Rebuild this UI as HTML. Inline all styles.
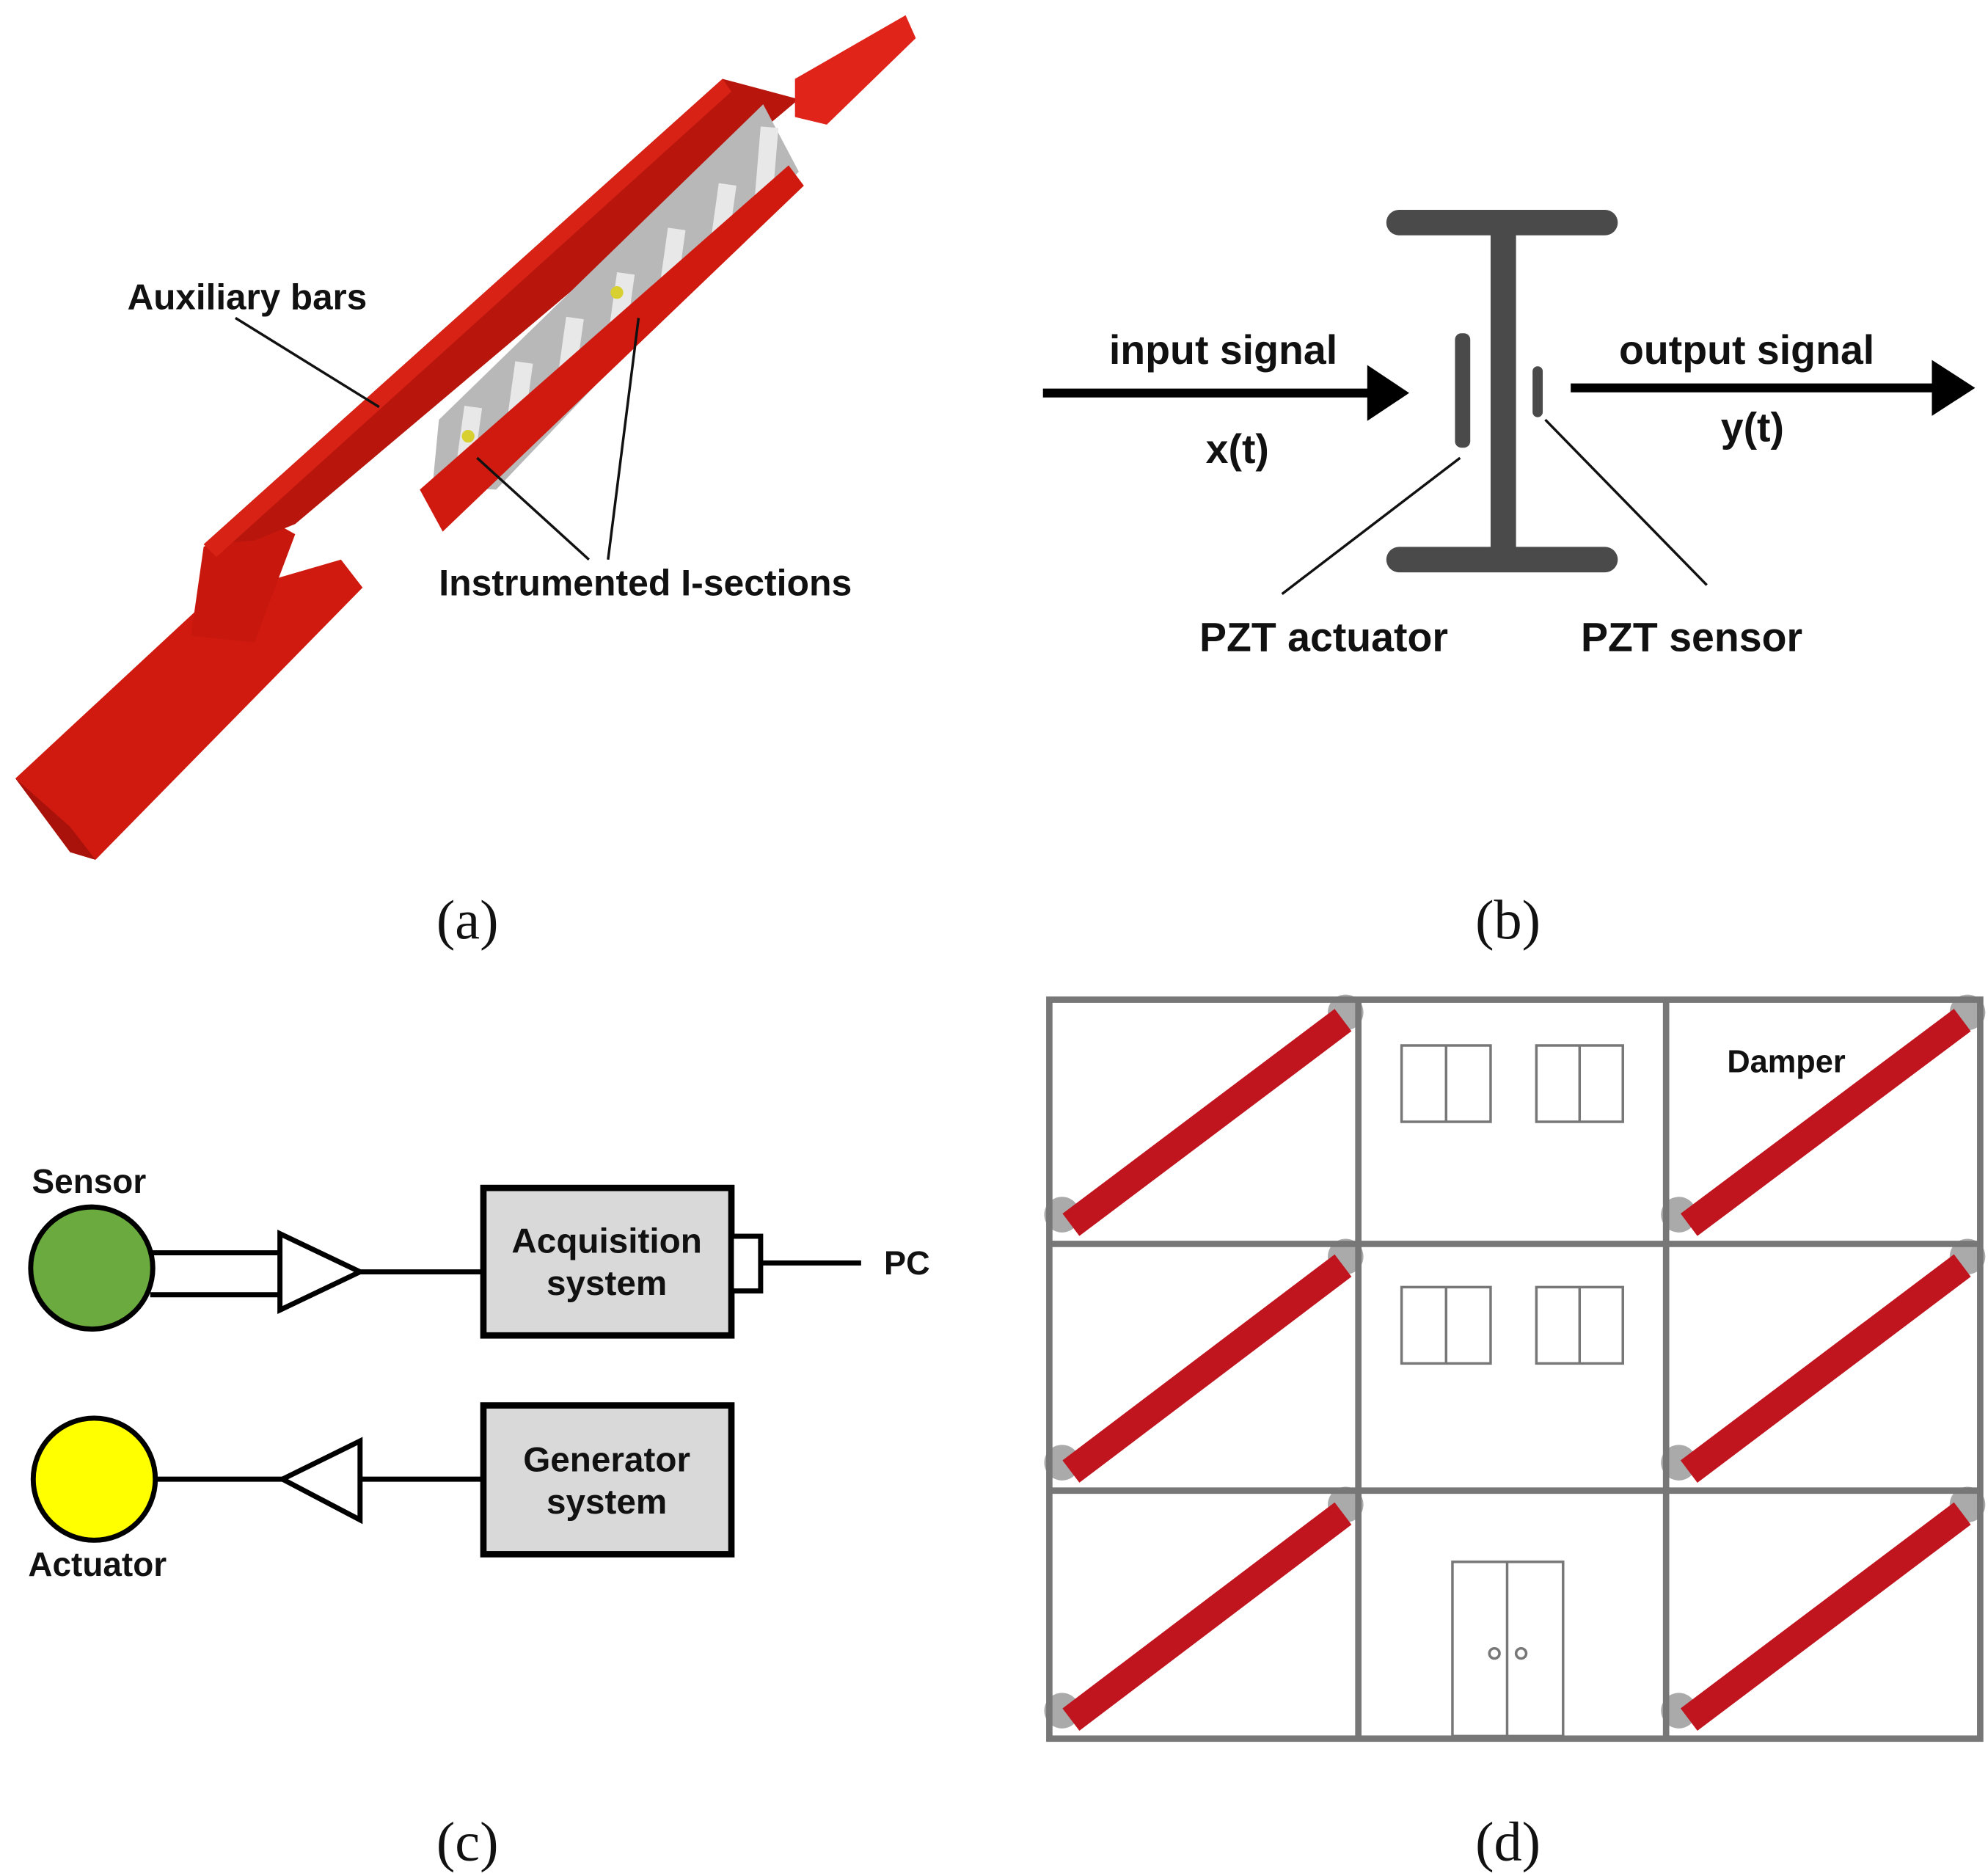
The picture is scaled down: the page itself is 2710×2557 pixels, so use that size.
<!DOCTYPE html>
<html><head><meta charset="utf-8"><style>
html,body{margin:0;padding:0;background:#fff;}
svg{display:block;}
text{font-family:"Liberation Sans",Arial,sans-serif;font-weight:bold;fill:#111;}
.cap{font-family:"Liberation Serif",serif;font-weight:normal;font-size:44px;}
</style></head><body>
<svg width="2710" height="2557" viewBox="0 0 1563 1475" xmlns="http://www.w3.org/2000/svg">
<rect width="1563" height="1475" fill="#fff"/>
<!-- Panel (a) -->
<polygon points="12,612 165,470 268,440 285,462 75,676 55,670" fill="#d01a10"/>
<polygon points="12,612 55,650 75,676 55,670" fill="#a8120a"/>
<polygon points="160,430 205,405 232,420 200,505 150,500" fill="#c8180e"/>
<polygon points="160,428 568,62 628,78 232,412 200,425" fill="#b8150d"/>
<polygon points="160,428 568,62 575,72 170,438" fill="#d82216"/>
<polygon points="625,62 712,12 720,30 650,98 625,92" fill="#e0241a"/>
<polygon points="340,382 345,330 600,82 628,135 390,385" fill="#b8b8b8"/>
<g stroke="#e8e8e8" stroke-width="14">
<line x1="365" y1="370" x2="372" y2="320"/><line x1="405" y1="335" x2="412" y2="285"/>
<line x1="445" y1="300" x2="452" y2="250"/><line x1="485" y1="265" x2="492" y2="215"/>
<line x1="525" y1="230" x2="532" y2="180"/><line x1="565" y1="195" x2="572" y2="145"/>
<line x1="600" y1="160" x2="605" y2="100"/>
</g>
<polygon points="330,385 620,130 632,146 348,418" fill="#d01a10"/>
<circle cx="368" cy="343" r="5" fill="#d8d030"/><circle cx="485" cy="230" r="5" fill="#d8d030"/>
<text x="100" y="243" font-size="28.5">Auxiliary bars</text>
<line x1="185" y1="250" x2="298" y2="320" stroke="#111" stroke-width="2"/>
<text x="345" y="468" font-size="28.8">Instrumented I-sections</text>
<line x1="463" y1="440" x2="375" y2="360" stroke="#111" stroke-width="2"/>
<line x1="478" y1="440" x2="502" y2="250" stroke="#111" stroke-width="2"/>
<text class="cap" x="343" y="738">(a)</text>
<!-- Panel (b) -->
<g fill="#4a4a4a">
<rect x="1090" y="165" width="182" height="20" rx="10"/>
<rect x="1172" y="175" width="20" height="265"/>
<rect x="1090" y="430" width="182" height="20" rx="10"/>
<rect x="1144" y="262" width="12" height="90" rx="5"/>
<rect x="1205" y="288" width="8" height="40" rx="4"/>
</g>
<line x1="820" y1="309" x2="1078" y2="309" stroke="#000" stroke-width="7"/>
<polygon points="1075,287 1108,309 1075,331" fill="#000"/>
<line x1="1235" y1="305" x2="1522" y2="305" stroke="#000" stroke-width="7"/>
<polygon points="1519,283 1553,305 1519,327" fill="#000"/>
<text x="872" y="286" font-size="32">input signal</text>
<text x="948" y="364" font-size="32">x(t)</text>
<text x="1273" y="286" font-size="32">output signal</text>
<text x="1353" y="347" font-size="32">y(t)</text>
<text x="943" y="512" font-size="32">PZT actuator</text>
<text x="1243" y="512" font-size="32">PZT sensor</text>
<line x1="1148" y1="360" x2="1008" y2="467" stroke="#111" stroke-width="2"/>
<line x1="1215" y1="330" x2="1342" y2="460" stroke="#111" stroke-width="2"/>
<text class="cap" x="1160" y="738">(b)</text>
<!-- Panel (c) -->
<g stroke="#000" stroke-width="4">
<line x1="118" y1="985" x2="222" y2="985"/><line x1="118" y1="1018" x2="222" y2="1018"/>
<polygon points="220,970 220,1030 283,1000" fill="#fff"/>
<line x1="283" y1="1000" x2="380" y2="1000"/>
<rect x="380" y="934" width="195" height="116" fill="#d9d9d9" stroke-width="5"/>
<rect x="575" y="972" width="23" height="43" fill="#fff"/>
<line x1="598" y1="993" x2="677" y2="993"/>
<circle cx="72" cy="997" r="48" fill="#6aaa3f"/>
<line x1="122" y1="1163" x2="222" y2="1163"/>
<polygon points="283,1133 283,1195 222,1163" fill="#fff"/>
<line x1="283" y1="1163" x2="380" y2="1163"/>
<rect x="380" y="1105" width="195" height="117" fill="#d9d9d9" stroke-width="5"/>
<circle cx="74" cy="1163" r="48" fill="#ffff00"/>
</g>
<text x="25" y="938" font-size="26.5">Sensor</text>
<text x="22" y="1239" font-size="26.5">Actuator</text>
<text x="695" y="1002" font-size="26">PC</text>
<text x="477" y="985" font-size="27.5" text-anchor="middle">Acquisition</text>
<text x="477" y="1018" font-size="27.5" text-anchor="middle">system</text>
<text x="477" y="1157" font-size="27.5" text-anchor="middle">Generator</text>
<text x="477" y="1190" font-size="27.5" text-anchor="middle">system</text>
<text class="cap" x="343" y="1463">(c)</text>
<!-- Panel (d) -->
<g fill="#aaa">
<circle cx="835" cy="955" r="14"/><circle cx="1058" cy="796" r="14"/>
<circle cx="1320" cy="955" r="14"/><circle cx="1547" cy="796" r="14"/>
<circle cx="835" cy="1150" r="14"/><circle cx="1058" cy="988" r="14"/>
<circle cx="1320" cy="1150" r="14"/><circle cx="1547" cy="988" r="14"/>
<circle cx="835" cy="1345" r="14"/><circle cx="1058" cy="1183" r="14"/>
<circle cx="1320" cy="1345" r="14"/><circle cx="1547" cy="1183" r="14"/>
</g>
<g stroke="#c0141e" stroke-width="22">
<line x1="842" y1="963" x2="1056" y2="802"/><line x1="1328" y1="963" x2="1543" y2="802"/>
<line x1="842" y1="1157" x2="1056" y2="995"/><line x1="1328" y1="1157" x2="1543" y2="995"/>
<line x1="842" y1="1352" x2="1056" y2="1190"/><line x1="1328" y1="1352" x2="1543" y2="1190"/>
</g>
<g fill="none" stroke="#777" stroke-width="5">
<rect x="825" y="786" width="732" height="581"/>
<line x1="1068" y1="786" x2="1068" y2="1367"/><line x1="1310" y1="786" x2="1310" y2="1367"/>
<line x1="825" y1="978" x2="1557" y2="978"/><line x1="825" y1="1172" x2="1557" y2="1172"/>
</g>
<g fill="none" stroke="#777" stroke-width="2">
<rect x="1102" y="822" width="70" height="60"/><line x1="1137" y1="822" x2="1137" y2="882"/>
<rect x="1208" y="822" width="68" height="60"/><line x1="1242" y1="822" x2="1242" y2="882"/>
<rect x="1102" y="1012" width="70" height="60"/><line x1="1137" y1="1012" x2="1137" y2="1072"/>
<rect x="1208" y="1012" width="68" height="60"/><line x1="1242" y1="1012" x2="1242" y2="1072"/>
<rect x="1142" y="1228" width="87" height="137"/><line x1="1185" y1="1228" x2="1185" y2="1365"/>
<circle cx="1175" cy="1300" r="4"/><circle cx="1196" cy="1300" r="4"/>
</g>
<text x="1358" y="843" font-size="25">Damper</text>
<text class="cap" x="1160" y="1463">(d)</text>
</svg>
</body></html>
